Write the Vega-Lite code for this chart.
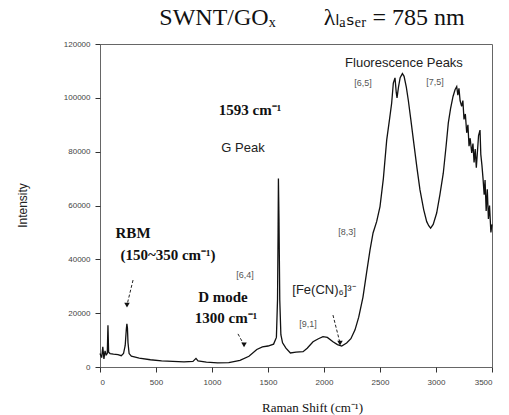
{
  "$schema": "https://vega.github.io/schema/vega-lite/v6.json",
  "width": 392,
  "height": 323,
  "autosize": {"type": "none"},
  "padding": {"left": 100, "top": 44, "right": 17, "bottom": 48},
  "background": "white",
  "title": {
    "text": "SWNT/GOₓ\u2003\u2003λₗₐₛₑᵣ = 785 nm",
    "font": "Liberation Serif, DejaVu Sans",
    "fontSize": 24,
    "fontWeight": "normal",
    "color": "#111",
    "anchor": "middle",
    "dx": 16,
    "offset": 10
  },
  "config": {
    "view": {"stroke": "#666", "strokeWidth": 1},
    "axis": {"grid": false, "domain": false, "ticks": true, "tickColor": "#333", "tickSize": 5, "labelFont": "Liberation Sans", "labelFontSize": 8, "labelColor": "#444"}
  },
  "datasets": {
    "spectrum": [
      {"shift": 0, "intensity": 5000}, {"shift": 15, "intensity": 3500}, {"shift": 25, "intensity": 7500}, {"shift": 35, "intensity": 3000},
      {"shift": 45, "intensity": 6000}, {"shift": 55, "intensity": 4500}, {"shift": 65, "intensity": 5000}, {"shift": 71, "intensity": 15500},
      {"shift": 77, "intensity": 5500}, {"shift": 90, "intensity": 5000}, {"shift": 120, "intensity": 4800}, {"shift": 160, "intensity": 4600},
      {"shift": 190, "intensity": 4200}, {"shift": 210, "intensity": 5000}, {"shift": 225, "intensity": 8000}, {"shift": 235, "intensity": 14000},
      {"shift": 240, "intensity": 16000}, {"shift": 245, "intensity": 14500}, {"shift": 250, "intensity": 9000}, {"shift": 260, "intensity": 5000},
      {"shift": 280, "intensity": 4000}, {"shift": 350, "intensity": 3300}, {"shift": 450, "intensity": 2700}, {"shift": 550, "intensity": 2300},
      {"shift": 650, "intensity": 2100}, {"shift": 750, "intensity": 1900}, {"shift": 830, "intensity": 2100}, {"shift": 857, "intensity": 3200},
      {"shift": 875, "intensity": 2300}, {"shift": 950, "intensity": 1800}, {"shift": 1050, "intensity": 1500}, {"shift": 1150, "intensity": 1600},
      {"shift": 1250, "intensity": 2500}, {"shift": 1330, "intensity": 4000}, {"shift": 1400, "intensity": 6500}, {"shift": 1450, "intensity": 7500},
      {"shift": 1500, "intensity": 7800}, {"shift": 1550, "intensity": 8500}, {"shift": 1575, "intensity": 11000}, {"shift": 1585, "intensity": 25000},
      {"shift": 1590, "intensity": 50000}, {"shift": 1593, "intensity": 70000}, {"shift": 1598, "intensity": 55000}, {"shift": 1605, "intensity": 25000},
      {"shift": 1615, "intensity": 12000}, {"shift": 1630, "intensity": 9000}, {"shift": 1660, "intensity": 7000}, {"shift": 1700, "intensity": 5200},
      {"shift": 1750, "intensity": 5500}, {"shift": 1813, "intensity": 5700}, {"shift": 1850, "intensity": 7000}, {"shift": 1902, "intensity": 9400},
      {"shift": 1950, "intensity": 10500}, {"shift": 1991, "intensity": 11300}, {"shift": 2030, "intensity": 11000}, {"shift": 2080, "intensity": 9400},
      {"shift": 2120, "intensity": 8300}, {"shift": 2158, "intensity": 7800}, {"shift": 2202, "intensity": 8900}, {"shift": 2240, "intensity": 10500},
      {"shift": 2277, "intensity": 13800}, {"shift": 2310, "intensity": 18500}, {"shift": 2348, "intensity": 26000}, {"shift": 2380, "intensity": 35000},
      {"shift": 2411, "intensity": 43500}, {"shift": 2438, "intensity": 49800}, {"shift": 2470, "intensity": 54000}, {"shift": 2500, "intensity": 59600},
      {"shift": 2530, "intensity": 70000}, {"shift": 2560, "intensity": 84400}, {"shift": 2585, "intensity": 92000}, {"shift": 2604, "intensity": 98000},
      {"shift": 2619, "intensity": 105500}, {"shift": 2634, "intensity": 107400}, {"shift": 2645, "intensity": 102000}, {"shift": 2652, "intensity": 100000},
      {"shift": 2665, "intensity": 104000}, {"shift": 2680, "intensity": 107500}, {"shift": 2700, "intensity": 109000}, {"shift": 2715, "intensity": 108000},
      {"shift": 2735, "intensity": 104000}, {"shift": 2753, "intensity": 99000}, {"shift": 2775, "intensity": 92000}, {"shift": 2798, "intensity": 84400},
      {"shift": 2830, "intensity": 74000}, {"shift": 2857, "intensity": 65800}, {"shift": 2890, "intensity": 58500}, {"shift": 2917, "intensity": 54000},
      {"shift": 2935, "intensity": 52500}, {"shift": 2952, "intensity": 51600}, {"shift": 2975, "intensity": 53000}, {"shift": 3006, "intensity": 57200},
      {"shift": 3035, "intensity": 64000}, {"shift": 3065, "intensity": 72000}, {"shift": 3090, "intensity": 82000}, {"shift": 3110, "intensity": 90700},
      {"shift": 3130, "intensity": 96000}, {"shift": 3152, "intensity": 100500}, {"shift": 3170, "intensity": 103000}, {"shift": 3185, "intensity": 104200},
      {"shift": 3195, "intensity": 101000}, {"shift": 3205, "intensity": 103500}, {"shift": 3215, "intensity": 99000}, {"shift": 3229, "intensity": 96800},
      {"shift": 3240, "intensity": 99000}, {"shift": 3250, "intensity": 92000}, {"shift": 3262, "intensity": 94000}, {"shift": 3274, "intensity": 87000},
      {"shift": 3285, "intensity": 90000}, {"shift": 3295, "intensity": 82000}, {"shift": 3305, "intensity": 85000}, {"shift": 3319, "intensity": 79500},
      {"shift": 3330, "intensity": 83000}, {"shift": 3340, "intensity": 76000}, {"shift": 3350, "intensity": 81000}, {"shift": 3360, "intensity": 74000},
      {"shift": 3370, "intensity": 80000}, {"shift": 3380, "intensity": 86000}, {"shift": 3393, "intensity": 88000}, {"shift": 3400, "intensity": 79000},
      {"shift": 3410, "intensity": 75000}, {"shift": 3420, "intensity": 70000}, {"shift": 3430, "intensity": 64000}, {"shift": 3438, "intensity": 69500},
      {"shift": 3448, "intensity": 58000}, {"shift": 3458, "intensity": 66000}, {"shift": 3468, "intensity": 55000}, {"shift": 3478, "intensity": 60000},
      {"shift": 3490, "intensity": 50000}, {"shift": 3500, "intensity": 53000}
    ],
    "boldLabels": [
      {"shift": 1339, "intensity": 95500, "label": "1593 cm⁻¹"},
      {"shift": 295, "intensity": 49800, "label": "RBM"},
      {"shift": 607, "intensity": 41600, "label": "(150~350 cm⁻¹)"},
      {"shift": 1098, "intensity": 26000, "label": "D mode"},
      {"shift": 1125, "intensity": 18200, "label": "1300 cm⁻¹"}
    ],
    "sansLabels": [
      {"shift": 1277, "intensity": 81400, "label": "G Peak"},
      {"shift": 2714, "intensity": 113000, "label": "Fluorescence Peaks"},
      {"shift": 2000, "intensity": 28600, "label": "[Fe(CN)₆]³⁻"}
    ],
    "smallLabels": [
      {"shift": 2348, "intensity": 105600, "label": "[6,5]"},
      {"shift": 2990, "intensity": 106000, "label": "[7,5]"},
      {"shift": 2205, "intensity": 50200, "label": "[8,3]"},
      {"shift": 1295, "intensity": 34200, "label": "[6,4]"},
      {"shift": 1857, "intensity": 16000, "label": "[9,1]"}
    ],
    "arrows": [
      {"shift": 295, "intensity": 32300, "shift2": 241, "intensity2": 23000},
      {"shift": 1232, "intensity": 12300, "shift2": 1286, "intensity2": 8200},
      {"shift": 2080, "intensity": 19300, "shift2": 2143, "intensity2": 8900}
    ]
  },
  "layer": [
    {
      "data": {"name": "spectrum"},
      "mark": {"type": "line", "color": "#111", "strokeWidth": 1.3},
      "encoding": {
        "x": {"field": "shift", "type": "quantitative", "scale": {"domain": [0, 3500], "nice": false},
          "axis": {"values": [0, 500, 1000, 1500, 2000, 2500, 3000, 3500], "format": "d", "title": "Raman Shift  (cm⁻¹)", "titleFont": "Liberation Serif", "titleFontSize": 13, "titleFontWeight": "normal", "titleColor": "#111", "titleX": 212, "titleY": 44, "titleBaseline": "alphabetic", "labelPadding": 6}},
        "y": {"field": "intensity", "type": "quantitative", "scale": {"domain": [0, 120000], "nice": false},
          "axis": {"values": [0, 20000, 40000, 60000, 80000, 100000, 120000], "format": "d", "title": "Intensity", "titleFont": "Liberation Sans", "titleFontSize": 12, "titleFontWeight": "normal", "titleColor": "#222", "titleX": -78, "titleY": 161, "titleBaseline": "middle", "labelPadding": 5}}
      }
    },
    {
      "data": {"name": "arrows"},
      "mark": {"type": "rule", "color": "#222", "strokeWidth": 1, "strokeDash": [3, 2]},
      "encoding": {
        "x": {"field": "shift", "type": "quantitative"},
        "y": {"field": "intensity", "type": "quantitative"},
        "x2": {"field": "shift2"},
        "y2": {"field": "intensity2"}
      }
    },
    {
      "data": {"name": "arrows"},
      "mark": {"type": "point", "shape": "triangle-down", "filled": true, "color": "#111", "size": 30, "opacity": 1},
      "encoding": {
        "x": {"field": "shift2", "type": "quantitative"},
        "y": {"field": "intensity2", "type": "quantitative"}
      }
    },
    {
      "data": {"name": "boldLabels"},
      "mark": {"type": "text", "font": "Liberation Serif", "fontSize": 15, "fontWeight": "bold", "color": "#111"},
      "encoding": {
        "x": {"field": "shift", "type": "quantitative"},
        "y": {"field": "intensity", "type": "quantitative"},
        "text": {"field": "label"}
      }
    },
    {
      "data": {"name": "sansLabels"},
      "mark": {"type": "text", "font": "Liberation Sans", "fontSize": 13, "color": "#222"},
      "encoding": {
        "x": {"field": "shift", "type": "quantitative"},
        "y": {"field": "intensity", "type": "quantitative"},
        "text": {"field": "label"}
      }
    },
    {
      "data": {"name": "smallLabels"},
      "mark": {"type": "text", "font": "Liberation Sans", "fontSize": 9, "color": "#555"},
      "encoding": {
        "x": {"field": "shift", "type": "quantitative"},
        "y": {"field": "intensity", "type": "quantitative"},
        "text": {"field": "label"}
      }
    }
  ]
}
